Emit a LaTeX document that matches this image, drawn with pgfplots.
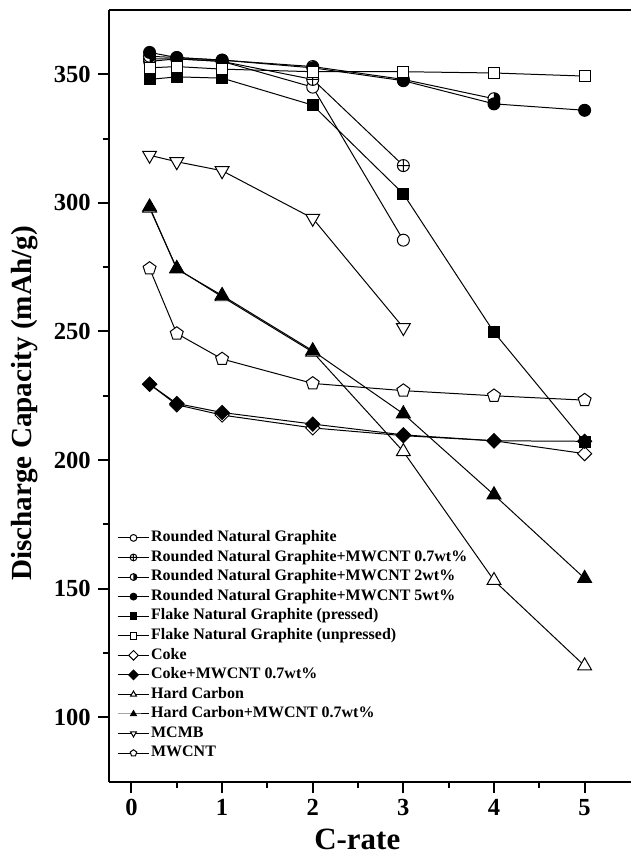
\documentclass[border=0pt]{standalone}
\usepackage{fontspec}
\setmainfont{Liberation Serif}
\usepackage{pgfplots}
\pgfplotsset{compat=1.18}
\usetikzlibrary{plotmarks}

\pgfdeclareplotmark{rhalfcircle}{%
  \pgfpathcircle{\pgfpointorigin}{\pgfplotmarksize}%
  \pgfsetfillcolor{white}\pgfusepath{fill}%
  \pgfpathmoveto{\pgfpoint{0pt}{\pgfplotmarksize}}%
  \pgfpatharc{90}{-90}{\pgfplotmarksize}%
  \pgfpathclose
  \pgfsetfillcolor{black}\pgfusepath{fill}%
  \pgfpathcircle{\pgfpointorigin}{\pgfplotmarksize}%
  \pgfusepath{stroke}%
}

\begin{document}
\begin{tikzpicture}
\begin{axis}[
  scale only axis, width=261.5pt, height=386.5pt,
  xmin=-0.25, xmax=5.51, ymin=75, ymax=375,
  axis x line*=box, axis y line*=left,
  axis line style={line width=1pt},
  xtick={0,1,2,3,4,5}, minor xtick={0.5,1.5,2.5,3.5,4.5},
  ytick={100,150,200,250,300,350}, minor ytick={125,175,225,275,325},
  xtick pos=bottom, ytick pos=left,
  tick align=outside,
  major tick length=5.5pt, minor tick length=3pt,
  every tick/.style={line width=1pt, black},
  /pgf/number format/assume math mode=true,
  tick label style={font=\fontsize{12.3}{14}\selectfont\bfseries},
  xlabel={C-rate}, ylabel={Discharge Capacity (mAh/g)},
  xlabel style={font=\fontsize{15.5}{18}\selectfont\bfseries, at={(axis description cs:0.476,0)}, anchor=north, yshift=-20pt},
  ylabel style={font=\fontsize{14.6}{17}\selectfont\bfseries, yshift=1pt, at={(ticklabel cs:0.49)}},
  legend cell align=left,
  legend style={at={(0.015,0.329)}, anchor=north west, draw=none, fill=none,
    font=\fontsize{8}{9.8}\selectfont\bfseries, row sep=0pt, inner sep=0pt,
    nodes={inner sep=0.6pt, text height=6.2pt, text depth=2.4pt}},
  legend image code/.code={\draw[#1,mark size=1.7pt,mark repeat=2,mark phase=2,line width=0.5pt] plot coordinates {(0pt,0pt)(8pt,0pt)(16pt,0pt)};},
  every axis plot/.append style={black, line width=0.5pt},
]
\addplot[mark=*, mark size=3pt, mark options={fill=white}] coordinates {(0.2,355)(0.5,356)(1,355)(2,345)(3,285.5)};
\addlegendentry{Rounded Natural Graphite}
\addplot[mark=oplus*, mark size=3pt, mark options={fill=white}] coordinates {(0.2,356)(0.5,356)(1,355)(2,348)(3,314.5)};
\addlegendentry{Rounded Natural Graphite+MWCNT 0.7wt\%}
\addplot[mark=rhalfcircle, mark size=3pt] coordinates {(0.2,357)(0.5,356.5)(1,355.5)(2,353)(3,348)(4,340.5)};
\addlegendentry{Rounded Natural Graphite+MWCNT 2wt\%}
\addplot[mark=*, mark size=3pt, mark options={fill=black}] coordinates {(0.2,358.5)(0.5,356.5)(1,355.5)(2,352.5)(3,347.5)(4,338.5)(5,336)};
\addlegendentry{Rounded Natural Graphite+MWCNT 5wt\%}
\addplot[mark=square*, mark size=2.75pt, mark options={fill=black}] coordinates {(0.2,348)(0.5,349)(1,348.5)(2,338)(3,303.5)(4,249.7)(5,207)};
\addlegendentry{Flake Natural Graphite (pressed)}
\addplot[mark=square*, mark size=2.75pt, mark options={fill=white}] coordinates {(0.2,352.5)(0.5,353)(1,352)(2,351)(3,351)(4,350.5)(5,349.3)};
\addlegendentry{Flake Natural Graphite (unpressed)}
\addplot[mark=square*, mark size=2.5pt, mark options={fill=white, rotate=45}] coordinates {(0.2,229.5)(0.5,221.5)(1,217.5)(2,212.5)(3,209.5)(4,207.5)(5,202.5)};
\addlegendentry{Coke}
\addplot[mark=square*, mark size=2.5pt, mark options={fill=black, rotate=45}] coordinates {(0.2,229.5)(0.5,222)(1,218.5)(2,214)(3,209.8)(4,207.5)(5,207.3)};
\addlegendentry{Coke+MWCNT 0.7wt\%}
\addplot[mark=triangle*, mark size=4pt, mark options={fill=white}] coordinates {(0.2,298)(0.5,274.5)(1,263.5)(2,242)(3,203.3)(4,153.2)(5,120)};
\addlegendentry{Hard Carbon}
\addplot[mark=triangle*, mark size=4pt, mark options={fill=black}] coordinates {(0.2,298.4)(0.5,274.3)(1,264)(2,242.5)(3,218)(4,186.5)(5,154)};
\addlegendentry{Hard Carbon+MWCNT 0.7wt\%}
\addplot[mark=triangle*, mark size=4pt, mark options={fill=white, rotate=180}] coordinates {(0.2,318.5)(0.5,316)(1,312.5)(2,294)(3,251.5)};
\addlegendentry{MCMB}
\addplot[mark=pentagon*, mark size=3.4pt, mark options={fill=white}] coordinates {(0.2,274.5)(0.5,249.2)(1,239.3)(2,229.8)(3,227)(4,225)(5,223.3)};
\addlegendentry{MWCNT}
\end{axis}
\path (current axis.south west) ++(-54.5pt,-36.5pt) rectangle ++(316pt,428pt);
\end{tikzpicture}
\end{document}
